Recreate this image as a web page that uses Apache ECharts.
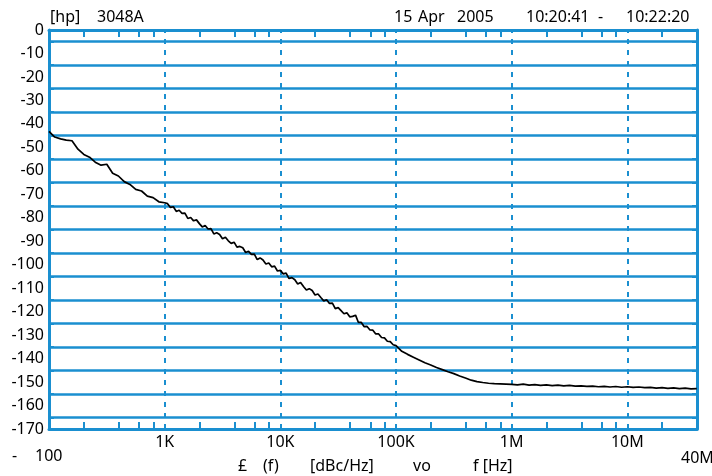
<!DOCTYPE html>
<html>
<head>
<meta charset="utf-8">
<script src="https://cdn.jsdelivr.net/npm/echarts@6/dist/echarts.min.js"></script>
<style>html,body{margin:0;padding:0;background:#fff}#c{width:712px;height:476px}</style>
</head>
<body>
<div id="c"></div>
<script>
const freqHz = [
  100,112,126,141,158,178,200,224,251,282,316,355,398,447,501,562,631,708,794,891,
  1000,1059,1122,1189,1259,1334,1413,1496,1585,1679,1778,1884,1995,2113,2239,2371,2512,2661,2818,2985,
  3162,3350,3548,3758,3981,4217,4467,4732,5012,5309,5623,5957,6310,6683,7079,7499,7943,8414,8913,9441,
  10000,10590,11220,11890,12590,13340,14130,14960,15850,16790,17780,18840,19950,21130,22390,23710,25120,26610,28180,29850,
  31620,33500,35480,37580,39810,42170,44670,47320,50120,53090,56230,59570,63100,66830,70790,74990,79430,84140,89130,94410,
  100000,112200,125900,141300,158500,177800,199500,223900,251200,281800,316200,354800,398100,446700,501200,562300,631000,707900,794300,891300,
  1000000,1122000,1259000,1413000,1585000,1778000,1995000,2239000,2512000,2818000,3162000,3548000,3981000,4467000,5012000,5623000,6310000,7079000,7943000,8913000,
  10000000,11220000,12590000,14130000,15850000,17780000,19950000,22390000,25120000,28180000,31620000,35480000,39810000,40000000
];
const noiseDbc = [
  -43.2,-45.6,-46.4,-46.9,-47.2,-50.8,-53.0,-54.2,-56.3,-57.6,-57.2,-61.0,-62.2,-64.6,-65.8,-67.9,-68.6,-70.8,-71.4,-73.2,
  -73.6,-74.0,-75.6,-75.3,-77.3,-76.8,-78.1,-78.0,-80.3,-79.9,-81.3,-80.9,-82.5,-83.9,-83.3,-84.8,-84.6,-86.9,-86.4,-87.1,
  -88.9,-88.3,-89.8,-90.9,-90.4,-92.5,-92.2,-92.8,-94.8,-94.3,-95.6,-95.5,-97.8,-97.1,-98.0,-99.7,-99.3,-100.9,-100.6,-102.7,
  -102.4,-103.9,-103.6,-105.9,-105.5,-106.4,-108.2,-107.6,-109.3,-110.8,-110.2,-111.0,-112.9,-112.5,-114.0,-115.4,-114.9,-116.5,-116.4,-118.7,
  -118.3,-119.6,-120.9,-120.5,-122.2,-122.0,-121.5,-124.6,-124.6,-126.4,-126.3,-127.8,-127.9,-129.5,-129.5,-131.0,-131.2,-132.6,-132.8,-134.1,
  -134.5,-136.9,-138.2,-139.4,-140.6,-141.8,-142.7,-143.8,-144.7,-145.6,-146.4,-147.4,-148.3,-149.2,-149.8,-150.2,-150.5,-150.7,-150.8,-150.9,
  -151.0,-151.2,-150.9,-151.3,-151.1,-151.4,-151.2,-151.5,-151.3,-151.6,-151.4,-151.7,-151.6,-151.8,-151.7,-152.0,-151.8,-152.1,-151.9,-152.2,
  -152.0,-152.3,-152.1,-152.4,-152.3,-152.6,-152.4,-152.7,-152.5,-152.8,-152.6,-152.9,-152.8,-152.9
];
const decadeLines = [1000, 10000, 100000, 1000000, 10000000];
const decadeLabels = ['1K', '10K', '100K', '1M', '10M'];
const minorXTicks = [200,400,600,800,2000,4000,6000,8000,20000,40000,60000,80000,
  200000,400000,600000,800000,2000000,4000000,6000000,8000000,20000000];
const minorYTicks = [-5,-15,-25,-35,-45,-55,-65,-75,-85,-95,-105,-115,-125,-135,-145,-155,-165];

const BLUE = '#1a8fd0';
const FONT = 'Noto Sans';
const data = freqHz.map((f, i) => [f, noiseDbc[i]]);

const chart = echarts.init(document.getElementById('c'), null, {renderer: 'canvas'});
const xTick = () => ({show: true, inside: true, length: 7, customValues: minorXTicks.slice(), lineStyle: {color: BLUE, width: 2}});
const yTick = () => ({show: true, inside: true, length: 5, customValues: minorYTicks.slice(), lineStyle: {color: BLUE, width: 2}});
const axLine = () => ({show: true, onZero: false, lineStyle: {color: BLUE, width: 3}});
chart.setOption({
  animation: false,
  backgroundColor: '#fff',
  grid: {left: 49, right: 15, top: 30, bottom: 47, containLabel: false},
  xAxis: [
    {type: 'log', logBase: 10, min: 100, max: 40000000, position: 'bottom',
     axisLine: axLine(), axisTick: xTick(),
     axisLabel: {show: true, customValues: decadeLines, margin: 5, color: '#000', fontFamily: FONT, fontSize: 16,
       formatter: v => decadeLabels[decadeLines.indexOf(Math.round(v))] || ''},
     splitLine: {show: false}, minorTick: {show: false}},
    {type: 'log', logBase: 10, min: 100, max: 40000000, position: 'top',
     axisLine: axLine(), axisTick: xTick(),
     axisLabel: {show: false}, splitLine: {show: false}}
  ],
  yAxis: [
    {type: 'value', min: -170, max: 0, interval: 10, position: 'left',
     axisLine: axLine(), axisTick: yTick(),
     axisLabel: {show: true, margin: 5, color: '#000', fontFamily: FONT, fontSize: 16},
     splitLine: {show: true, lineStyle: {color: BLUE, width: 2.5}}},
    {type: 'value', min: -170, max: 0, interval: 10, position: 'right',
     axisLine: axLine(), axisTick: yTick(),
     axisLabel: {show: false}, splitLine: {show: false}}
  ],
  series: [{
    type: 'line', xAxisIndex: 0, yAxisIndex: 0, data: data, showSymbol: false, symbol: 'none',
    lineStyle: {color: '#000', width: 1.7}, z: 5,
    markLine: {silent: true, symbol: ['none', 'none'], label: {show: false},
      lineStyle: {color: BLUE, width: 2, type: [5, 6]},
      data: decadeLines.map(v => ({xAxis: v})), z: 1}
  }],
  graphic: [
    {type: 'text', left: 50, top: 9, style: {text: '[hp]', font: '16px "Noto Sans"', fill: '#000'}},
    {type: 'text', left: 97, top: 9, style: {text: '3048A', font: '16px "Noto Sans"', fill: '#000'}},
    {type: 'text', left: 394, top: 9, style: {text: '15', font: '16px "Noto Sans"', fill: '#000'}},
    {type: 'text', left: 418, top: 9, style: {text: 'Apr', font: '16px "Noto Sans"', fill: '#000'}},
    {type: 'text', left: 457, top: 9, style: {text: '2005', font: '16px "Noto Sans"', fill: '#000'}},
    {type: 'text', left: 526, top: 9, style: {text: '10:20:41', font: '16px "Noto Sans"', fill: '#000'}},
    {type: 'text', left: 598, top: 9, style: {text: '-', font: '16px "Noto Sans"', fill: '#000'}},
    {type: 'text', left: 626, top: 9, style: {text: '10:22:20', font: '16px "Noto Sans"', fill: '#000'}},
    {type: 'text', left: 12, top: 448, style: {text: '-', font: '16px "Noto Sans"', fill: '#000'}},
    {type: 'text', left: 35, top: 448, style: {text: '100', font: '16px "Noto Sans"', fill: '#000'}},
    {type: 'text', left: 681, top: 450, style: {text: '40M', font: '16px "Noto Sans"', fill: '#000'}},
    {type: 'text', left: 238, top: 458, style: {text: '£', font: '16px "Noto Sans"', fill: '#000'}},
    {type: 'text', left: 263, top: 458, style: {text: '(f)', font: '16px "Noto Sans"', fill: '#000'}},
    {type: 'text', left: 310, top: 458, style: {text: '[dBc/Hz]', font: '16px "Noto Sans"', fill: '#000'}},
    {type: 'text', left: 413, top: 458, style: {text: 'vo', font: '16px "Noto Sans"', fill: '#000'}},
    {type: 'text', left: 473, top: 458, style: {text: 'f [Hz]', font: '16px "Noto Sans"', fill: '#000'}}
  ]
});
</script>
</body>
</html>
